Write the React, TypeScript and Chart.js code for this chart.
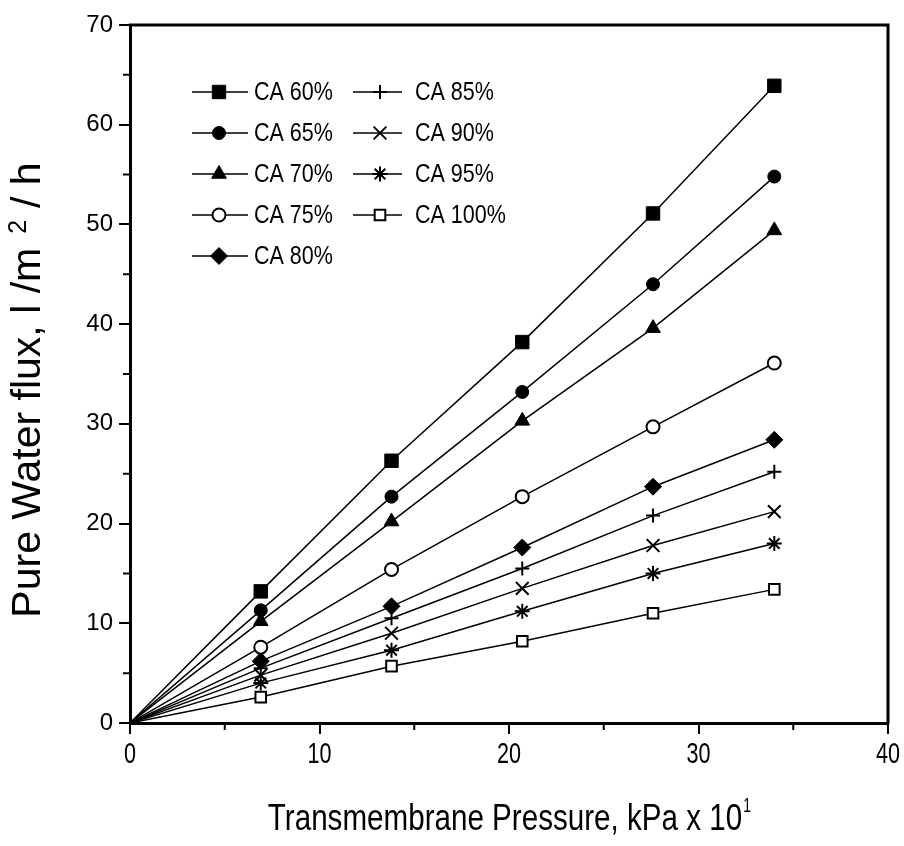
import React, { useEffect, useRef } from "react";
import { Chart, registerables } from "chart.js";
import { drawPoint } from "chart.js/helpers";

Chart.register(...registerables);

const pressures = [0, 6.9, 13.8, 20.7, 27.6, 34.0];
const seriesLabels = ["CA 60%", "CA 65%", "CA 70%", "CA 75%", "CA 80%", "CA 85%", "CA 90%", "CA 95%", "CA 100%"];
const ca60 = [0, 13.2, 26.3, 38.2, 51.1, 63.9];
const ca65 = [0, 11.3, 22.7, 33.2, 44.0, 54.8];
const ca70 = [0, 10.2, 20.2, 30.3, 39.6, 49.4];
const ca75 = [0, 7.6, 15.4, 22.7, 29.7, 36.1];
const ca80 = [0, 6.2, 11.7, 17.6, 23.7, 28.4];
const ca85 = [0, 5.5, 10.5, 15.5, 20.8, 25.2];
const ca90 = [0, 4.8, 9.0, 13.5, 17.8, 21.2];
const ca95 = [0, 4.0, 7.3, 11.2, 15.0, 18.0];
const ca100 = [0, 2.6, 5.7, 8.2, 11.0, 13.4];
const xTicks = [0, 10, 20, 30, 40];
const yTicks = [0, 10, 20, 30, 40, 50, 60, 70];
const xTitleMain = "Transmembrane Pressure, kPa x 10";
const xTitleSup = "1";
const yTitleMain = "Pure Water flux, l /m";
const yTitleSup = "2";
const yTitleEnd = "/ h";

const allSeries = [ca60, ca65, ca70, ca75, ca80, ca85, ca90, ca95, ca100];

const markerStyles: any[] = [
  { pointStyle: "rect", radius: 9.5, fill: "#000", borderWidth: 1 },
  { pointStyle: "circle", radius: 6.5, fill: "#000", borderWidth: 1 },
  { pointStyle: "triangle", radius: 8.5, fill: "#000", borderWidth: 1 },
  { pointStyle: "circle", radius: 6.5, fill: "#fff", borderWidth: 2 },
  { pointStyle: "rectRot", radius: 8.5, fill: "#000", borderWidth: 1 },
  { pointStyle: "cross", radius: 7, fill: "#000", borderWidth: 2 },
  { pointStyle: "crossRot", radius: 9, fill: "#000", borderWidth: 2 },
  { pointStyle: "star", radius: 7.5, fill: "#000", borderWidth: 2 },
  { pointStyle: "rect", radius: 7.5, fill: "#fff", borderWidth: 2 },
];

const SANS = "'Liberation Sans', Arial, Helvetica, sans-serif";

function narrowText(ctx: any, text: string, x: number, y: number, size: number, sx: number, align: string) {
  ctx.save();
  ctx.font = `${size}px ${SANS}`;
  const w = ctx.measureText(text).width * sx;
  let left = x;
  if (align === "center") left = x - w / 2;
  else if (align === "right") left = x - w;
  ctx.translate(left, y);
  ctx.scale(sx, 1);
  ctx.textAlign = "left";
  ctx.fillText(text, 0, 0);
  ctx.restore();
  return w;
}

const decorPlugin = {
  id: "decor",
  afterDraw(chart: any) {
    const ctx = chart.ctx;
    const { left, right, top, bottom } = chart.chartArea;
    const xs = chart.scales.x;
    const ys = chart.scales.y;
    ctx.save();
    ctx.strokeStyle = "#000";
    ctx.lineWidth = 3;
    ctx.beginPath();
    ctx.moveTo(left - 1, top);
    ctx.lineTo(right, top);
    ctx.lineTo(right, bottom + 1);
    ctx.stroke();
    ctx.lineWidth = 2;
    ctx.beginPath();
    for (let v = 5; v < 40; v += 10) {
      const px = xs.getPixelForValue(v);
      ctx.moveTo(px, bottom);
      ctx.lineTo(px, bottom + 7);
    }
    for (let v = 5; v < 70; v += 10) {
      const py = ys.getPixelForValue(v);
      ctx.moveTo(left, py);
      ctx.lineTo(left - 7, py);
    }
    ctx.stroke();
    ctx.fillStyle = "#000";
    ctx.textBaseline = "alphabetic";
    xTicks.forEach((v) => {
      narrowText(ctx, String(v), xs.getPixelForValue(v), 763, 30, 0.72, "center");
    });
    ctx.font = `37px ${SANS}`;
    const mainW = ctx.measureText(xTitleMain).width * 0.8;
    const supW = 8;
    const startX = (left + right) / 2 - (mainW + supW) / 2;
    narrowText(ctx, xTitleMain, startX, 830, 37, 0.8, "left");
    narrowText(ctx, xTitleSup, startX + mainW + 1, 812, 20, 0.7, "left");
    ctx.save();
    ctx.translate(40, 390);
    ctx.rotate(-Math.PI / 2);
    ctx.textAlign = "left";
    ctx.font = `41px ${SANS}`;
    const m1 = ctx.measureText(yTitleMain).width;
    ctx.font = `25px ${SANS}`;
    const m2 = ctx.measureText(yTitleSup).width;
    ctx.font = `41px ${SANS}`;
    const m3 = ctx.measureText(yTitleEnd).width;
    const total = m1 + 14 + m2 + 12 + m3;
    let cx = -total / 2;
    ctx.fillText(yTitleMain, cx, 0);
    cx += m1 + 14;
    ctx.font = `25px ${SANS}`;
    ctx.fillText(yTitleSup, cx, -14);
    cx += m2 + 12;
    ctx.font = `41px ${SANS}`;
    ctx.fillText(yTitleEnd, cx, 0);
    ctx.restore();
    ctx.textBaseline = "middle";
    chart.data.datasets.forEach((ds: any, i: number) => {
      const col = i < 5 ? 0 : 1;
      const row = i < 5 ? i : i - 5;
      const y = 92 + row * 41;
      const x0 = col === 0 ? 192 : 353;
      const x1 = col === 0 ? 248 : 402;
      const mx = col === 0 ? 219 : 380;
      const tx = col === 0 ? 254 : 415;
      ctx.strokeStyle = "#000";
      ctx.lineWidth = 1.5;
      ctx.beginPath();
      ctx.moveTo(x0, y);
      ctx.lineTo(x1, y);
      ctx.stroke();
      const m = markerStyles[i];
      ctx.fillStyle = m.fill;
      ctx.strokeStyle = "#000";
      ctx.lineWidth = m.borderWidth;
      drawPoint(ctx, { pointStyle: m.pointStyle, radius: m.radius, rotation: 0, borderWidth: m.borderWidth }, mx, y);
      ctx.fillStyle = "#000";
      narrowText(ctx, ds.label, tx, y + 1, 25, 0.86, "left");
    });
    ctx.restore();
  },
};

export default function App() {
  const ref = useRef<HTMLCanvasElement | null>(null);
  useEffect(() => {
    document.body.style.margin = "0";
    const canvas = ref.current!;
    const datasets = allSeries.map((vals, i) => {
      const m = markerStyles[i];
      return {
        label: seriesLabels[i],
        data: vals.map((v, j) => ({ x: pressures[j], y: v })),
        borderColor: "#000",
        borderWidth: 1.5,
        backgroundColor: m.fill,
        pointStyle: m.pointStyle,
        pointRadius: (c: any) => (c.dataIndex === 0 ? 0 : m.radius),
        pointBackgroundColor: m.fill,
        pointBorderColor: "#000",
        pointBorderWidth: m.borderWidth,
        fill: false,
        tension: 0,
      };
    });
    const chart = new Chart(canvas, {
      type: "line",
      data: { datasets },
      plugins: [decorPlugin],
      options: {
        animation: false,
        responsive: false,
        devicePixelRatio: 1,
        layout: { padding: { top: 25, right: 16, left: 0, bottom: 0 } },
        plugins: { legend: { display: false }, tooltip: { enabled: false } },
        scales: {
          x: {
            type: "linear",
            min: 0,
            max: 40,
            afterFit: (s: any) => { s.height = 123; },
            afterBuildTicks: (s: any) => { s.ticks = xTicks.map((v) => ({ value: v })); },
            ticks: { display: false },
            grid: { drawOnChartArea: false, drawTicks: true, tickLength: 11, color: "#000", lineWidth: 2 },
            border: { color: "#000", width: 3 },
          },
          y: {
            type: "linear",
            min: 0,
            max: 70,
            afterFit: (s: any) => { s.width = 130; },
            afterBuildTicks: (s: any) => { s.ticks = yTicks.map((v) => ({ value: v })); },
            ticks: { color: "#000", font: { family: SANS, size: 24 }, padding: 6 },
            grid: { drawOnChartArea: false, drawTicks: true, tickLength: 11, color: "#000", lineWidth: 2 },
            border: { color: "#000", width: 3 },
          },
        },
      },
    });
    return () => chart.destroy();
  }, []);
  return (
    <div style={{ position: "absolute", left: 0, top: 0, width: 904, height: 846, background: "#fff" }}>
      <canvas ref={ref} width={904} height={846} style={{ width: 904, height: 846 }} />
    </div>
  );
}
